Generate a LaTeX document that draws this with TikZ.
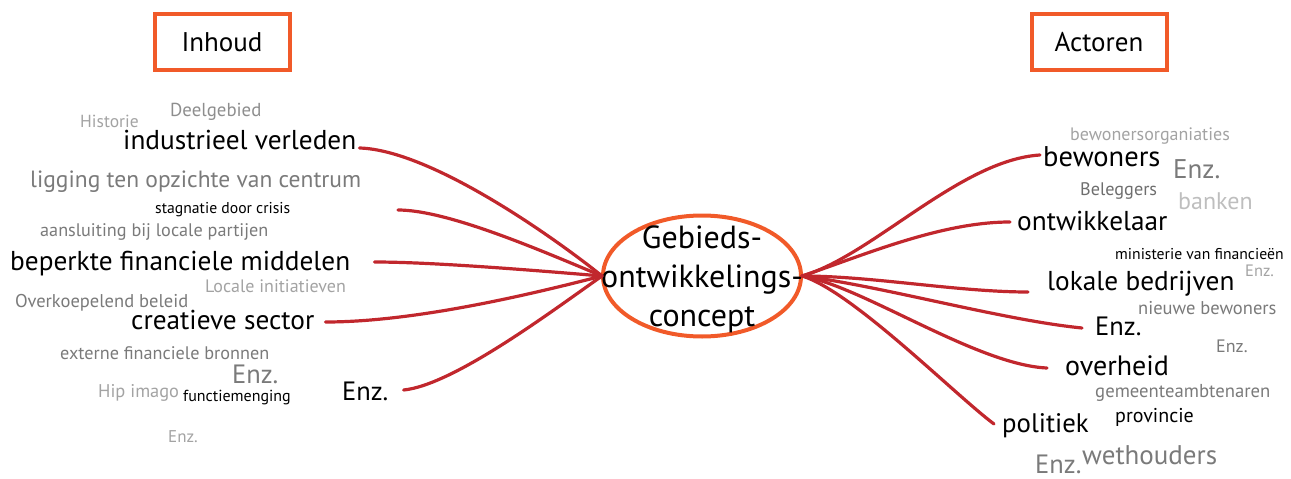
\documentclass[tikz,border=0pt]{standalone}
\usepackage{fontspec}
\setmainfont{PT Sans}
\usetikzlibrary{shapes.geometric}
\definecolor{branchred}{HTML}{C1272D}
\definecolor{framered}{HTML}{F15A29}
\definecolor{midgrey}{HTML}{7A7A7A}
\definecolor{lightgrey}{HTML}{A3A3A3}
\definecolor{palegrey}{HTML}{BEBEBE}
\newcommand{\fsz}[1]{\fontsize{#1}{#1}\selectfont}
\begin{document}
\begin{tikzpicture}[x=1pt,y=-1pt,
                    word/.style={anchor=base west,inner sep=0pt},
                    main/.style={word,font=\fsz{27.3},text=black},
                    side/.style={word,font=\fsz{18.2},text=midgrey},
                    faint/.style={word,font=\fsz{18},text=lightgrey},
                    tiny/.style={word,font=\fsz{15.7},text=black},
                    frame/.style={draw=framered,line width=4pt,minimum width=135,minimum height=56,inner sep=0pt,font=\fsz{27}},
                    branch/.style={draw=branchred,line width=3.2pt,line cap=round}]
    \useasboundingbox (0,0) rectangle (1291,479);
    % kopjes
    \node[frame] (inhoud) at (222,42) {Inhoud};
    \node[frame] (actoren) at (1099,42) {Actoren};
    % midden
    \node[ellipse,draw=framered,line width=4pt,minimum width=198,minimum height=121,inner sep=0pt] (c) at (702,276) {};
    \node[align=center,inner sep=0pt,font=\fontsize{32}{39}\selectfont] (ctext) at ([yshift=-3pt]c.center)
        {Gebieds-\\ontwikkelings-\\concept};
    % inhoud
    \node[faint,font=\fsz{17.5}] (historie) at (80,127) {Historie};
    \node[side,font=\fsz{18.8},text=midgrey!85] (deelgebied) at (170,116) {Deelgebied};
    \node[main] (ind) at (123,149) {industrieel verleden};
    \node[side,font=\fsz{23.5}] (ligging) at (30,187) {ligging ten opzichte van centrum};
    \node[tiny] (stagnatie) at (155,213) {stagnatie door crisis};
    \node[side] (aansluiting) at (40,236) {aansluiting bij locale partijen};
    \node[main] (bep) at (10,270) {beperkte financiele middelen};
    \node[faint] (locale) at (205,292) {Locale initiatieven};
    \node[side,font=\fsz{18.5}] (overkoepelend) at (15,307) {Overkoepelend beleid};
    \node[main] (cre) at (131,329) {creatieve sector};
    \node[side] (externe) at (60,359) {externe financiele bronnen};
    \node[side,font=\fsz{26.5}] (enzgrijs) at (232,383) {Enz.};
    \node[faint,font=\fsz{18.4}] (hip) at (98,397) {Hip imago};
    \node[tiny,font=\fsz{16}] (functie) at (183,401) {functiemenging};
    \node[main,font=\fsz{26.5}] (enzl) at (342,400) {Enz.};
    \node[faint,font=\fsz{17}] (enzklein) at (168,442) {Enz.};
    \coordinate (stag) at (398,210);
    % actoren
    \node[faint] (organisaties) at (1070,140) {bewonersorganiaties};
    \node[main,font=\fsz{28.5}] (bew) at (1043,166) {bewoners};
    \node[side,font=\fsz{27}] (enzb) at (1173,178) {Enz.};
    \node[side,text=midgrey!90!black] (beleggers) at (1080,195) {Beleggers};
    \node[word,font=\fsz{24},text=palegrey] (banken) at (1178,209) {banken};
    \node[main] (ont) at (1017,230) {ontwikkelaar};
    \node[tiny] (ministerie) at (1115,259) {ministerie van financieën};
    \node[faint,font=\fsz{16.5}] (enzm) at (1245,276) {Enz.};
    \node[main] (lok) at (1047,290) {lokale bedrijven};
    \node[side,font=\fsz{18.5}] (nieuwe) at (1138,314) {nieuwe bewoners};
    \node[main,font=\fsz{26.5}] (enzr) at (1095,335) {Enz.};
    \node[side,font=\fsz{18}] (enzn) at (1216,352) {Enz.};
    \node[main,font=\fsz{28}] (ove) at (1065,375) {overheid};
    \node[side,font=\fsz{18.7}] (gemeente) at (1095,397) {gemeenteambtenaren};
    \node[tiny,font=\fsz{20}] (provincie) at (1115,422) {provincie};
    \node[main,font=\fsz{26.8}] (pol) at (1002,432) {politiek};
    \node[side,font=\fsz{27}] (wethouders) at (1082,464) {wethouders};
    \node[side,font=\fsz{26.5}] (enzw) at (1035,473) {Enz.};
    % takken links
    \draw[branch] ([shift={(3,-1)}]ind.base east) .. controls +(72,2) and +(-46,-37) .. ([xshift=1pt]c.west);
    \draw[branch] (stag) .. controls +(50,0) and +(-60,-25) .. ([xshift=1pt]c.west);
    \draw[branch] ([shift={(24,-8)}]bep.base east) .. controls +(60,0) and +(-60,-5) .. ([xshift=1pt]c.west);
    \draw[branch] ([shift={(11,-7)}]cre.base east) .. controls +(90,0) and +(-70,18) .. ([xshift=1pt]c.west);
    \draw[branch] ([shift={(15,-10)}]enzl.base east) .. controls +(50,-5) and +(-50,35) .. ([xshift=1pt]c.west);
    % takken rechts
    \draw[branch] ([xshift=-1pt]c.east) .. controls +(70,-20) and +(-80,5) .. ([shift={(-3,-11)}]bew.base west);
    \draw[branch] ([xshift=-1pt]c.east) .. controls +(60,-20) and +(-70,0) .. ([shift={(-7,-8)}]ont.base west);
    \draw[branch] ([xshift=-1pt]c.east) .. controls +(70,0) and +(-70,0) .. ([shift={(-19,2)}]lok.base west);
    \draw[branch] ([xshift=-1pt]c.east) .. controls +(80,10) and +(-80,-8) .. ([shift={(-13,-7)}]enzr.base west);
    \draw[branch] ([xshift=-1pt]c.east) .. controls +(60,10) and +(-70,-3) .. ([shift={(-18,-7)}]ove.base west);
    \draw[branch] ([xshift=-1pt]c.east) .. controls +(50,15) and +(-40,-30) .. ([shift={(-8,-8)}]pol.base west);
\end{tikzpicture}
\end{document}
